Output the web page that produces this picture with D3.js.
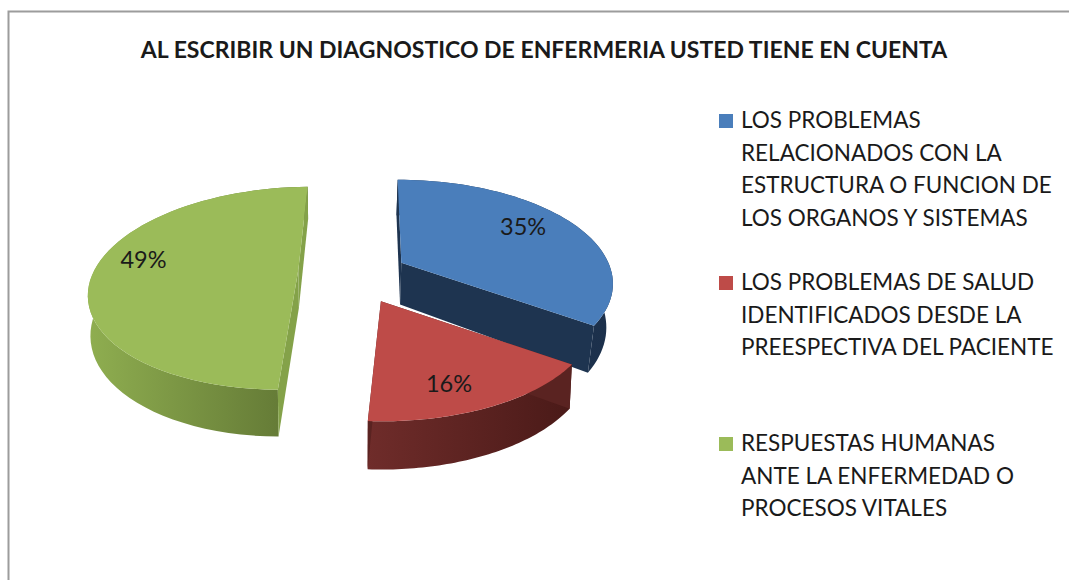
<!DOCTYPE html>
<html>
<head>
<meta charset="utf-8">
<script src="https://cdn.jsdelivr.net/npm/d3@7"></script>
<style>
  html, body { margin: 0; padding: 0; background: #fff; }
  text { font-family: Lato, "Open Sans", sans-serif; fill: #1a1a1a; }
</style>
</head>
<body>
<div id="chart"></div>
<script>
var chartTitle = "AL ESCRIBIR UN DIAGNOSTICO DE ENFERMERIA USTED TIENE EN CUENTA";
var categories = [
    ["LOS PROBLEMAS", "RELACIONADOS CON LA", "ESTRUCTURA O FUNCION DE", "LOS ORGANOS Y SISTEMAS"],
    ["LOS PROBLEMAS DE SALUD", "IDENTIFICADOS DESDE LA", "PREESPECTIVA DEL PACIENTE"],
    ["RESPUESTAS HUMANAS", "ANTE LA ENFERMEDAD O", "PROCESOS VITALES"]
];
var values = [35, 16, 49];
var topColors = ["#4a7ebb", "#be4b48", "#9bbb59"];
var radialWall = ["#1e3450", "#5a2321", "#84a249"];
var wallFrom = ["#1f3653", "#6f2c2a", "#8fae50"];
var wallTo = ["#1c304b", "#4a1a18", "#5f7433"];

var width = 1069, height = 580;

// perspective of the tilted pie: a = right, b = towards the viewer, radius = 1
var vanishX = 378, vanishY = -265, eyeDist = 5.45;
var scaleX = 1100, scaleY = 2916;
var pieX = -0.10, pieY = 0.04, explode = 0.28;
var leanX = 350;
// slices do not share one exact pie in the picture, small fixes per slice
var radiusA = [1.04, 0.98, 1.01];
var radiusB = [1.03, 0.90, 1];
var sliceThick = [232, 205, 209];
var sliceLean = [0.025, 0.01, 0.01];
var sliceNudge = [[-0.03, 0.015], [-0.01, 0.01], [-0.015, -0.04]];
var sliceTrim = [[1, 0], [0, 0.5], [-2, 0]];

function project(a, b, z, lean) {
    var w = 1 / (eyeDist - b);
    var x = vanishX + a * scaleX * w;
    return [x - (x - leanX) * lean * z, vanishY + (scaleY + z) * w];
}

var svg = d3.select("#chart").append("svg")
    .attr("width", width)
    .attr("height", height)
    .style("display", "block");
var defs = svg.append("defs");

// frame
svg.append("path")
    .attr("d", "M8.5," + height + "V11.5H" + width)
    .attr("fill", "none")
    .attr("stroke", "#9c9c9c")
    .attr("stroke-width", 2);

svg.append("text")
    .attr("x", 544)
    .attr("y", 58)
    .attr("text-anchor", "middle")
    .attr("font-size", 23)
    .attr("font-weight", 700)
    .text(chartTitle);

var rotation = -1 * Math.PI / 180;
var pie = d3.pie().sort(null).startAngle(rotation).endAngle(rotation + 2 * Math.PI);
var slices = pie(values);
var line = d3.line();
var rad = Math.PI / 180;

slices.forEach(function(d, i) {
    var mid = (d.startAngle + d.endAngle) / 2;
    d.ox = pieX + explode * Math.sin(mid) + sliceNudge[i][0];
    d.oy = pieY - explode * Math.cos(mid) + sliceNudge[i][1];
    d.from = d.startAngle + sliceTrim[i][0] * rad;
    d.to = d.endAngle + sliceTrim[i][1] * rad;
    d.pt = function(angle, r, z) {
        // z is 0 on the top face and 1 on the bottom face
        var zz = z ? sliceThick[i] : 0;
        return project(d.ox + r * radiusA[i] * Math.sin(angle), d.oy - r * radiusB[i] * Math.cos(angle), zz, sliceLean[i] / sliceThick[i]);
    };
    d.arcAngles = d3.range(0, 61).map(d3.scaleLinear().domain([0, 60]).range([d.from, d.to]));
});

// far slice first, the red one overlaps the blue wall
[0, 2, 1].forEach(function(i) {
    var d = slices[i];
    var g = svg.append("g");

    var grad = defs.append("linearGradient").attr("id", "wall" + i);
    grad.append("stop").attr("offset", "0%").attr("stop-color", wallFrom[i]);
    grad.append("stop").attr("offset", "100%").attr("stop-color", wallTo[i]);

    var outer = d.arcAngles.map(function(t) { return d.pt(t, 1, 0); })
        .concat(d.arcAngles.slice().reverse().map(function(t) { return d.pt(t, 1, 1); }));
    g.append("path")
        .attr("d", line(outer) + "Z")
        .attr("fill", "url(#wall" + i + ")");

    g.append("path")
        .attr("d", line([d.pt(d.from, 1, 0), d.pt(0, 0, 0), d.pt(0, 0, 1), d.pt(d.from, 1, 1)]) + "Z")
        .attr("fill", radialWall[i]);
    g.append("path")
        .attr("d", line([d.pt(d.to, 1, 0), d.pt(0, 0, 0), d.pt(0, 0, 1), d.pt(d.to, 1, 1)]) + "Z")
        .attr("fill", radialWall[i]);

    var top = [d.pt(0, 0, 0)].concat(d.arcAngles.map(function(t) { return d.pt(t, 1, 0); }));
    g.append("path")
        .attr("d", line(top) + "Z")
        .attr("fill", topColors[i]);
});

// percentage labels
var labelShift = [-3.5, 5, 7].map(function(deg) { return deg * rad; });
var labelRadius = [0.75, 0.78, 0.79];
slices.forEach(function(d, i) {
    var p = d.pt((d.startAngle + d.endAngle) / 2 + labelShift[i], labelRadius[i], 0);
    svg.append("text")
        .attr("x", p[0])
        .attr("y", p[1])
        .attr("dy", "0.36em")
        .attr("text-anchor", "middle")
        .attr("font-size", 23.5)
        .text(d3.format(".0%")(d.value / d3.sum(values)));
});

// legend
var legendTop = [128, 290, 451];
var legendStep = 32.6;
categories.forEach(function(lines, i) {
    svg.append("rect")
        .attr("x", 719)
        .attr("y", legendTop[i] - 14)
        .attr("width", 14)
        .attr("height", 14)
        .attr("fill", topColors[i]);
    lines.forEach(function(s, j) {
        svg.append("text")
            .attr("x", 741)
            .attr("y", legendTop[i] + j * legendStep)
            .attr("font-size", 22.5)
            .text(s);
    });
});
</script>
</body>
</html>
